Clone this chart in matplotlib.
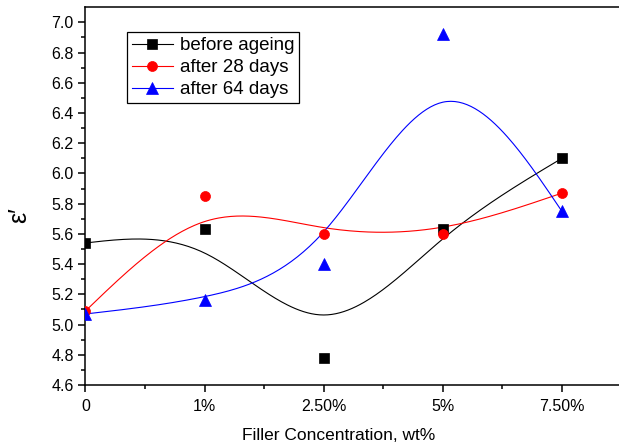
import numpy as np
import matplotlib
matplotlib.use("Agg")
import matplotlib.pyplot as plt
from matplotlib.lines import Line2D

plt.rcParams['font.family'] = ['Liberation Sans', 'DejaVu Sans']

# Filler loading levels and permittivity readings
concentrations = ['0', '1%', '2.50%', '5%', '7.50%']
before_ageing = [5.54, 5.63, 4.78, 5.63, 6.10]
after_28_days = [5.09, 5.85, 5.60, 5.60, 5.87]
after_64_days = [5.07, 5.16, 5.40, 6.92, 5.75]
series_names = ['before ageing', 'after 28 days', 'after 64 days']


def bspline_curve(xs, ys, samples=60):
    """Uniform cubic B-spline through the end points (reflected phantom ends)."""
    xs = np.asarray(xs, float)
    ys = np.asarray(ys, float)
    px = np.concatenate([[2 * xs[0] - xs[1]], xs, [2 * xs[-1] - xs[-2]]])
    py = np.concatenate([[2 * ys[0] - ys[1]], ys, [2 * ys[-1] - ys[-2]]])
    u = np.linspace(0, 1, samples)
    b0 = (1 - u) ** 3 / 6
    b1 = (3 * u ** 3 - 6 * u ** 2 + 4) / 6
    b2 = (-3 * u ** 3 + 3 * u ** 2 + 3 * u + 1) / 6
    b3 = u ** 3 / 6
    cx, cy = [], []
    for i in range(len(xs) - 1):
        cx.append(b0 * px[i] + b1 * px[i + 1] + b2 * px[i + 2] + b3 * px[i + 3])
        cy.append(b0 * py[i] + b1 * py[i + 1] + b2 * py[i + 2] + b3 * py[i + 3])
    return np.concatenate(cx), np.concatenate(cy)


fig = plt.figure(figsize=(6.19, 4.46), dpi=100)
ax = fig.add_axes([0.1381, 0.1368, 0.962, 0.8469])

x = np.arange(len(concentrations))
styles = [
    dict(color='black', marker='s', ms=6.6),
    dict(color='red', marker='o', ms=7.2),
    dict(color='blue', marker='^', ms=8.0),
]

handles = []
for ys, st, name in zip([before_ageing, after_28_days, after_64_days], styles, series_names):
    cx, cy = bspline_curve(x, ys)
    ax.plot(cx, cy, color=st['color'], lw=0.8, zorder=2)
    ax.plot(x, ys, linestyle='none', marker=st['marker'], ms=st['ms'],
            color=st['color'], mec=st['color'], mew=0.5, zorder=3)
    handles.append(Line2D([], [], color=st['color'], lw=0.8, marker=st['marker'],
                          ms=st['ms'], mec=st['color'], mew=0.5, label=name))

ax.set_xlim(0, 5)
ax.set_ylim(4.6, 7.1)
ax.set_xticks(x)
ax.set_xticklabels(concentrations)
ax.set_xticks(np.arange(0.5, 5, 1.0), minor=True)
ax.set_yticks(np.arange(4.6, 7.01, 0.2))
ax.set_yticklabels([f'{v:.1f}' for v in np.arange(4.6, 7.01, 0.2)])
ax.set_yticks(np.arange(4.7, 7.1, 0.2), minor=True)

ax.tick_params(axis='x', which='major', pad=5)
ax.tick_params(axis='y', which='major', pad=3.5)
ax.tick_params(axis='both', which='major', direction='out', length=5, width=1.1,
               labelsize=11.5, top=False, right=False)
ax.tick_params(axis='both', which='minor', direction='out', length=2.8, width=1.1,
               top=False, right=False)
for side in ['left', 'bottom', 'top', 'right']:
    ax.spines[side].set_linewidth(1.1)
    ax.spines[side].set_color('black')

ax.set_xlabel('Filler Concentration, wt%', fontsize=12.5)
ax.xaxis.set_label_coords(0.4257, -0.113)
ax.set_ylabel('\u03b5\u2032', fontsize=18)
ax.yaxis.set_label_coords(-0.092, 0.45)

leg = ax.legend(handles=handles, loc='upper left', bbox_to_anchor=(0.0697, 0.9338),
                borderaxespad=0, fontsize=13.5, frameon=True, fancybox=False,
                edgecolor='black', framealpha=1, borderpad=0.25, labelspacing=0.26,
                handlelength=2.2, handletextpad=0.36)
leg.get_frame().set_linewidth(0.9)

fig.savefig('out.png', dpi=100, facecolor='white')
